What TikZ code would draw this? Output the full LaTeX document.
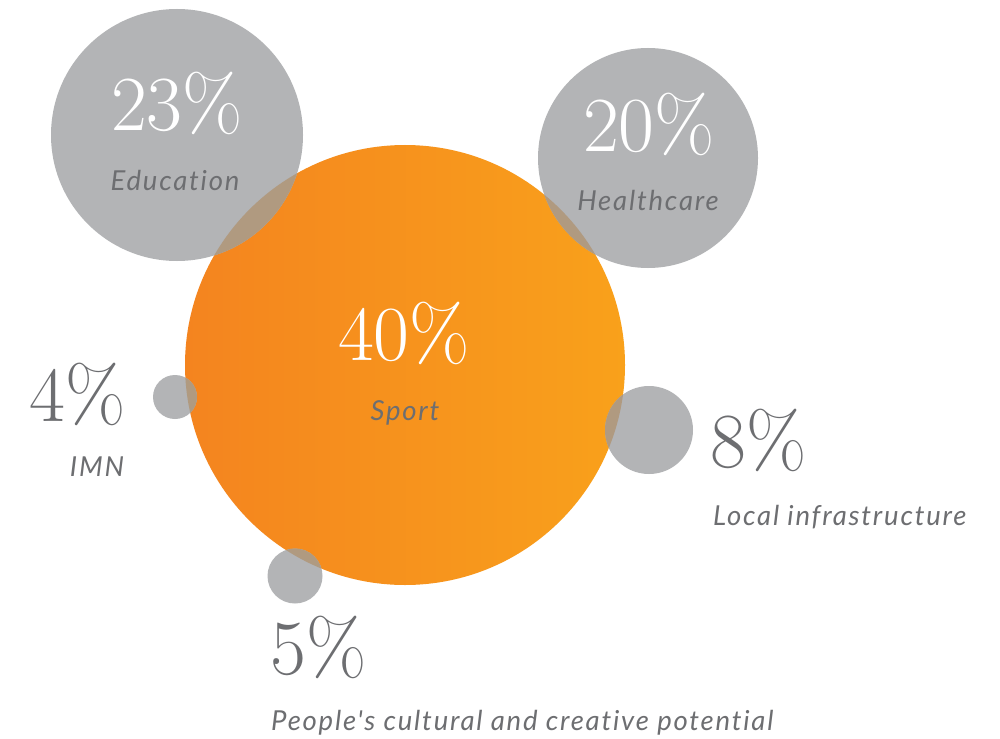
\documentclass[tikz,border=0pt]{standalone}
\usepackage{fontspec}
\usepackage{tikz}
\newfontfamily\labelfont{Lato}[LetterSpace=6.5,Ligatures={NoCommon,NoDiscretionary}]
\definecolor{bubblegray}{HTML}{B3B4B6}
\definecolor{overlapbrown}{HTML}{B09A80}
\definecolor{textgray}{HTML}{6D6E71}
\definecolor{orangeleft}{HTML}{F4841F}
\definecolor{orangeright}{HTML}{F9A11B}

\begin{document}
\begin{tikzpicture}[x=1pt,y=-1pt]
\tikzset{bubble/.style={circle,fill=bubblegray,inner sep=0pt},
  pct/.style={inner sep=0pt,font=\fontsize{78}{78}\selectfont},
  lbl/.style={inner sep=0pt,text=textgray,font=\labelfont\itshape\fontsize{27.5}{27.5}\selectfont}}
\useasboundingbox[fill=white] (0,0) rectangle (1000,738);
\node[circle,inner sep=0pt,minimum size=440pt,left color=orangeleft,right color=orangeright] (sport) at (405,365) {};
\node[bubble,minimum size=252pt] (edu) at (177,135) {};
\node[bubble,minimum size=220pt] (health) at (648,158) {};
\node[bubble,minimum size=44pt] (imn) at (175,397) {};
\node[bubble,minimum size=88pt] (infra) at (649,430) {};
\node[bubble,minimum size=55pt] (people) at (295,576) {};
\foreach \b/\r in {edu/126,health/110,imn/22,infra/44,people/27.5}{
  \begin{scope}
  \clip (sport.center) circle[radius=220];
  \fill[overlapbrown] (\b.center) circle[radius=\r];
  \end{scope}}
% labels
\node[pct,text=white,anchor=base] (edupct) at (177,131) {23\%};
\node[lbl,anchor=base] (edulbl) at (175,190) {Education};
\node[pct,text=white,anchor=base] (healthpct) at (649,152) {20\%};
\node[lbl,anchor=base] (healthlbl) at (648,210) {Healthcare};
\node[pct,text=white,anchor=base] (sportpct) at (404,360) {40\%};
\node[lbl,anchor=base] (sportlbl) at (405,420) {Sport};
\node[pct,text=textgray,anchor=base] (imnpct) at (78,421) {4\%};
\node[lbl,anchor=base] (imnlbl) at (97,476) {IMN};
\node[pct,text=textgray,anchor=base west] (infrapct) at (710,467) {8\%};
\node[lbl,anchor=base west] (infralbl) at (713,525) {Local infrastructure};
\node[pct,text=textgray,anchor=base west] (peoplepct) at (270,674) {5\%};
\node[lbl,anchor=base west] (peoplelbl) at (271,730) {People's cultural and creative potential};
\end{tikzpicture}
\end{document}
